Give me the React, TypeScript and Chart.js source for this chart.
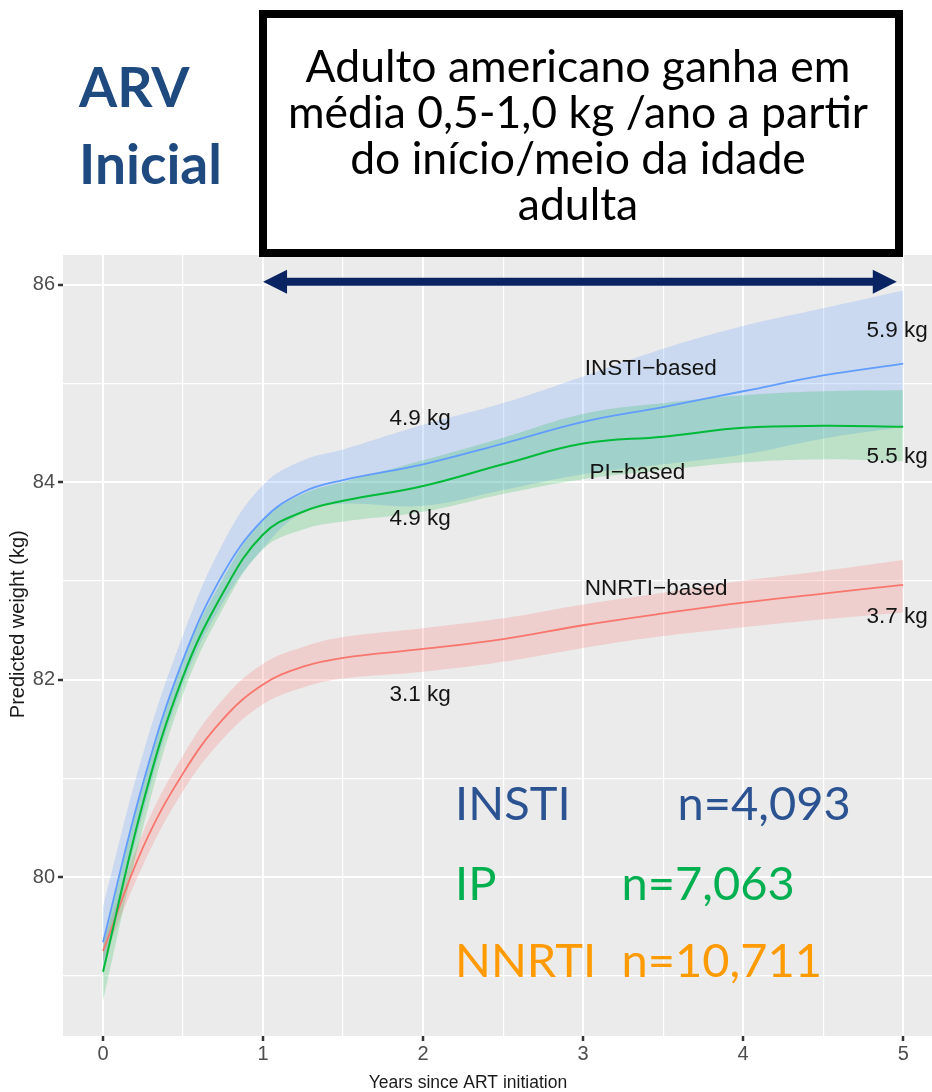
import React, { useEffect, useRef } from "react";
import { Chart, registerables } from "chart.js";

Chart.register(...registerables);

// ---- data ----
const years = [0, 0.25, 0.5, 0.75, 1, 1.25, 1.5, 2, 2.5, 3, 3.5, 4, 4.5, 5];

const instiWeight = [79.34, 80.95, 82.2, 83.07, 83.62, 83.9, 84.02, 84.18, 84.39, 84.61, 84.76, 84.92, 85.08, 85.2];
const instiUpper = [79.7, 81.25, 82.45, 83.38, 83.97, 84.22, 84.33, 84.58, 84.8, 85.07, 85.35, 85.58, 85.76, 85.94];
const instiLower = [79.0, 80.65, 81.95, 82.78, 83.33, 83.7, 83.78, 83.76, 83.92, 84.08, 84.18, 84.28, 84.44, 84.56];

const piWeight = [79.04, 80.75, 82.03, 82.88, 83.47, 83.7, 83.81, 83.96, 84.18, 84.39, 84.46, 84.55, 84.57, 84.56];
const piUpper = [79.3, 80.95, 82.2, 83.02, 83.62, 83.88, 84.0, 84.22, 84.45, 84.69, 84.8, 84.88, 84.92, 84.93];
const piLower = [78.75, 80.5, 81.85, 82.72, 83.32, 83.52, 83.6, 83.7, 83.88, 84.03, 84.12, 84.2, 84.23, 84.21];

const nnrtiWeight = [79.25, 80.3, 81.05, 81.6, 81.95, 82.13, 82.22, 82.31, 82.41, 82.55, 82.67, 82.78, 82.87, 82.96];
const nnrtiUpper = [79.35, 80.45, 81.23, 81.8, 82.16, 82.33, 82.43, 82.52, 82.62, 82.76, 82.88, 83.0, 83.1, 83.21];
const nnrtiLower = [79.15, 80.12, 80.87, 81.4, 81.75, 81.92, 82.01, 82.08, 82.18, 82.32, 82.44, 82.53, 82.61, 82.68];

const xMajorTicks = [0, 1, 2, 3, 4, 5];
const xMinorTicks = [0.5, 1.5, 2.5, 3.5, 4.5];
const yMajorTicks = [80, 82, 84, 86];
const yMinorTicks = [79, 81, 83, 85];

const curveLabels = ["INSTI\u2212based", "PI\u2212based", "NNRTI\u2212based"];
const curveLabelX = [3.01, 3.04, 3.01];
const curveLabelY = [85.15, 84.09, 82.92];

const gainLabels = ["4.9 kg", "5.9 kg", "4.9 kg", "5.5 kg", "3.1 kg", "3.7 kg"];
const gainLabelX = [1.79, 4.77, 1.79, 4.77, 1.79, 4.77];
const gainLabelY = [84.64, 85.53, 83.63, 84.26, 81.85, 82.64];

const regimens = ["INSTI", "IP", "NNRTI"];
const sampleSizes = ["n=4,093", "n=7,063", "n=10,711"];
const regimenColors = ["#2B5291", "#00B050", "#FF9A00"];
const regimenX = [2.2, 2.2, 2.2];
const sampleX = [3.59, 3.24, 3.24];
const regimenY = [80.73, 79.92, 79.14];

const arrowFrom = 1;
const arrowTo = 4.96;
const arrowAt = 86.03;

const toPts = (vals: number[]) => years.map((x, i) => ({ x, y: vals[i] }));

const BLUE = "#619CFF";
const GREEN = "#00BA38";
const RED = "#F8766D";
const BLUE_FILL = "rgba(97,156,255,0.24)";
const GREEN_FILL = "rgba(0,186,56,0.2)";
const RED_FILL = "rgba(248,118,109,0.24)";

export default function App() {
  const ref = useRef<HTMLCanvasElement>(null);

  useEffect(() => {
    const canvas = ref.current;
    if (!canvas) return;

    const panelBg = {
      id: "panelBg",
      beforeDraw(chart: any) {
        const { ctx, chartArea: a } = chart;
        ctx.save();
        ctx.fillStyle = "#EBEBEB";
        ctx.fillRect(a.left, a.top, a.right - a.left, a.bottom - a.top);
        ctx.restore();
      },
    };

    const annotations = {
      id: "annotations",
      afterDatasetsDraw(chart: any) {
        const { ctx } = chart;
        const xs = chart.scales.x;
        const ys = chart.scales.y;
        ctx.save();
        ctx.fillStyle = "#141414";
        ctx.font = "22.5px 'Liberation Sans', Arial, sans-serif";
        ctx.textAlign = "left";
        ctx.textBaseline = "middle";
        curveLabels.forEach((t, i) => {
          ctx.fillText(t, xs.getPixelForValue(curveLabelX[i]), ys.getPixelForValue(curveLabelY[i]));
        });
        gainLabels.forEach((t, i) => {
          ctx.fillText(t, xs.getPixelForValue(gainLabelX[i]), ys.getPixelForValue(gainLabelY[i]));
        });
        ctx.font = "47px Lato, 'Open Sans', sans-serif";
        regimens.forEach((t, i) => {
          ctx.fillStyle = regimenColors[i];
          const yy = ys.getPixelForValue(regimenY[i]);
          ctx.fillText(t, xs.getPixelForValue(regimenX[i]), yy);
          ctx.fillText(sampleSizes[i], xs.getPixelForValue(sampleX[i]), yy);
        });
        ctx.restore();
      },
      afterDraw(chart: any) {
        const { ctx, chartArea } = chart;
        const xs = chart.scales.x;
        const ys = chart.scales.y;
        // double-headed arrow
        const x1 = xs.getPixelForValue(arrowFrom);
        const x2 = xs.getPixelForValue(arrowTo);
        const yy = ys.getPixelForValue(arrowAt);
        const head = 24;
        const hh = 12;
        const sh = 4;
        ctx.save();
        ctx.fillStyle = "#0A2463";
        ctx.beginPath();
        ctx.moveTo(x1, yy);
        ctx.lineTo(x1 + head, yy - hh);
        ctx.lineTo(x1 + head, yy - sh);
        ctx.lineTo(x2 - head, yy - sh);
        ctx.lineTo(x2 - head, yy - hh);
        ctx.lineTo(x2, yy);
        ctx.lineTo(x2 - head, yy + hh);
        ctx.lineTo(x2 - head, yy + sh);
        ctx.lineTo(x1 + head, yy + sh);
        ctx.lineTo(x1 + head, yy + hh);
        ctx.closePath();
        ctx.fill();

        // axis titles
        ctx.fillStyle = "#1A1A1A";
        ctx.textAlign = "center";
        ctx.textBaseline = "middle";
        ctx.font = "17.5px 'Liberation Sans', Arial, sans-serif";
        ctx.fillText("Years since ART initiation", xs.getPixelForValue(2.28), chartArea.bottom + 47);
        ctx.translate(18, ys.getPixelForValue(82.56));
        ctx.rotate(-Math.PI / 2);
        ctx.font = "20px 'Liberation Sans', Arial, sans-serif";
        ctx.fillText("Predicted weight (kg)", 0, 0);
        ctx.restore();
      },
    };

    const lineDs = (label: string, vals: number[], color: string, w: number) => ({
      label,
      data: toPts(vals),
      borderColor: color,
      borderWidth: w,
      pointRadius: 0,
      fill: false,
      tension: 0.4,
      order: 0,
    });
    const bandUpper = (label: string, vals: number[]) => ({
      label,
      data: toPts(vals),
      borderWidth: 0,
      borderColor: "rgba(0,0,0,0)",
      pointRadius: 0,
      fill: false,
      tension: 0.4,
      order: 1,
    });
    const bandLower = (label: string, vals: number[], fillColor: string) => ({
      label,
      data: toPts(vals),
      borderWidth: 0,
      borderColor: "rgba(0,0,0,0)",
      backgroundColor: fillColor,
      pointRadius: 0,
      fill: "-1",
      tension: 0.4,
      order: 1,
    });

    const isMajorX = (v: number) => xMajorTicks.includes(v);
    const isMajorY = (v: number) => yMajorTicks.includes(v);

    const chart = new Chart(canvas, {
      type: "line",
      data: {
        datasets: [
          lineDs("INSTI-based", instiWeight, BLUE, 1.8),
          lineDs("PI-based", piWeight, GREEN, 2),
          lineDs("NNRTI-based", nnrtiWeight, RED, 1.8),
          bandUpper("PI upper", piUpper),
          bandLower("PI lower", piLower, GREEN_FILL),
          bandUpper("INSTI upper", instiUpper),
          bandLower("INSTI lower", instiLower, BLUE_FILL),
          bandUpper("NNRTI upper", nnrtiUpper),
          bandLower("NNRTI lower", nnrtiLower, RED_FILL),
        ] as any,
      },
      options: {
        animation: false,
        responsive: false,
        maintainAspectRatio: false,
        layout: { padding: { top: 255, left: 0, right: 0, bottom: 0 } },
        plugins: { legend: { display: false }, tooltip: { enabled: false } },
        scales: {
          x: {
            type: "linear",
            min: -0.25,
            max: 5.18,
            afterBuildTicks: (scale: any) => {
              scale.ticks = [...xMajorTicks, ...xMinorTicks].sort((a, b) => a - b).map((v) => ({ value: v }));
            },
            afterFit: (scale: any) => {
              scale.height = 56;
            },
            ticks: {
              autoSkip: false,
              maxRotation: 0,
              padding: 1,
              color: "#4D4D4D",
              font: { family: "'Liberation Sans', Arial, sans-serif", size: 20 },
              callback: (v: any) => (isMajorX(Number(v)) ? String(v) : ""),
            },
            grid: {
              color: "#FFFFFF",
              lineWidth: (ctx: any) => (ctx.tick && isMajorX(ctx.tick.value) ? 2 : 1.2),
              tickColor: (ctx: any) => (ctx.tick && isMajorX(ctx.tick.value) ? "#333333" : "rgba(0,0,0,0)"),
              tickWidth: 2.5,
              tickLength: 5,
            },
            border: { display: false },
          },
          y: {
            type: "linear",
            min: 78.39,
            max: 86.3,
            afterBuildTicks: (scale: any) => {
              scale.ticks = [...yMinorTicks, ...yMajorTicks].sort((a, b) => a - b).map((v) => ({ value: v }));
            },
            afterFit: (scale: any) => {
              scale.width = 63;
            },
            ticks: {
              autoSkip: false,
              padding: 3,
              color: "#4D4D4D",
              font: { family: "'Liberation Sans', Arial, sans-serif", size: 20 },
              callback: (v: any) => (isMajorY(Number(v)) ? String(v) : ""),
            },
            grid: {
              color: "#FFFFFF",
              lineWidth: (ctx: any) => (ctx.tick && isMajorY(ctx.tick.value) ? 2 : 1.2),
              tickColor: (ctx: any) => (ctx.tick && isMajorY(ctx.tick.value) ? "#333333" : "rgba(0,0,0,0)"),
              tickWidth: 2.5,
              tickLength: 5,
            },
            border: { display: false },
          },
        },
      } as any,
      plugins: [panelBg, annotations],
    });

    return () => chart.destroy();
  }, []);

  return (
    <div
      style={{
        position: "absolute",
        left: 0,
        top: 0,
        width: 932,
        height: 1092,
        background: "#FFFFFF",
        overflow: "hidden",
      }}
    >
      <canvas
        ref={ref}
        width={932}
        height={1092}
        style={{ position: "absolute", left: 0, top: 0, width: 932, height: 1092 }}
      />
      <div
        style={{
          position: "absolute",
          left: 79,
          top: 48,
          width: 170,
          textAlign: "left",
          fontFamily: "Lato, 'Open Sans', sans-serif",
          fontWeight: 700,
          fontSize: 55,
          lineHeight: "77px",
          color: "#1F4A80",
        }}
      >
        ARV
        <br />
        Inicial
      </div>
      <div
        style={{
          position: "absolute",
          left: 259,
          top: 10,
          width: 644,
          height: 247,
          border: "8px solid #000000",
          boxSizing: "border-box",
          background: "#FFFFFF",
        }}
      />
      <div
        style={{
          position: "absolute",
          left: 256,
          top: 42,
          width: 644,
          textAlign: "center",
          fontFamily: "Lato, 'Open Sans', sans-serif",
          fontSize: 44.5,
          lineHeight: "46px",
          color: "#000000",
        }}
      >
        Adulto americano ganha em
        <br />
        média 0,5-1,0 kg /ano a partir
        <br />
        do início/meio da idade
        <br />
        adulta
      </div>
    </div>
  );
}
